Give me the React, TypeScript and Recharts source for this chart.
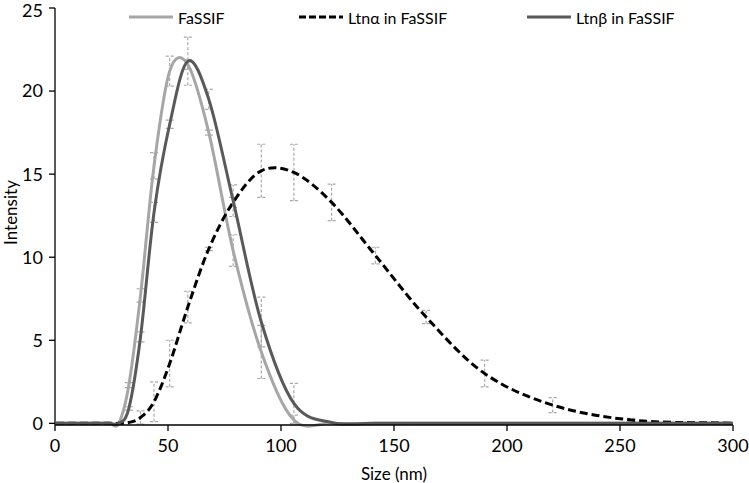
import React from 'react';
import { LineChart, Line, XAxis, YAxis, ErrorBar, Legend, Label } from 'recharts';

// Zetasizer size bins (nm)
const sizes = [
  0.4, 0.4632, 0.5365, 0.6213, 0.7195, 0.8332, 0.9649, 1.117, 1.294, 1.499,
  1.736, 2.01, 2.328, 2.696, 3.122, 3.615, 4.187, 4.849, 5.615, 6.503,
  7.531, 8.721, 10.1, 11.7, 13.54, 15.69, 18.17, 21.04, 24.36, 28.21,
  32.67, 37.84, 43.82, 50.75, 58.77, 68.06, 78.82, 91.28, 105.7, 122.4,
  141.8, 164.2, 190.1, 220.2, 255.0, 295.3, 342.0,
];

const fassif = [
  0, 0, 0, 0, 0, 0, 0, 0, 0, 0,
  0, 0, 0, 0, 0, 0, 0, 0, 0, 0,
  0, 0, 0, 0, 0, 0, 0, 0, 0, 0,
  2.3, 7.7, 15.5, 21.2, 21.6, 17.5, 10.4, 4.3, 0.2, 0,
  0, 0, 0, 0, 0, 0, 0,
];

const ltnA = [
  0, 0, 0, 0, 0, 0, 0, 0, 0, 0,
  0, 0, 0, 0, 0, 0, 0, 0, 0, 0,
  0, 0, 0, 0, 0, 0, 0, 0, 0, 0,
  0.05, 0.35, 1.3, 3.6, 7.0, 10.5, 13.3, 15.2, 15.1, 13.3,
  10.1, 6.4, 3.0, 1.1, 0.2, 0.02, 0,
];

const ltnB = [
  0, 0, 0, 0, 0, 0, 0, 0, 0, 0,
  0, 0, 0, 0, 0, 0, 0, 0, 0, 0,
  0, 0, 0, 0, 0, 0, 0, 0, 0, 0,
  0.9, 5.2, 12.7, 18.0, 21.8, 19.5, 13.4, 6.1, 1.2, 0.05,
  0, 0, 0, 0, 0, 0, 0,
];

const fassifErr = [
  null, null, null, null, null, null, null, null, null, null,
  null, null, null, null, null, null, null, null, null, null,
  null, null, null, null, null, null, null, null, null, null,
  0.15, 0.4, 0.8, 0.9, 0.3, 0.15, 0.95, 1.6, 0.3, null,
  null, null, null, null, null, null, null,
];

const ltnAErr = [
  null, null, null, null, null, null, null, null, null, null,
  null, null, null, null, null, null, null, null, null, null,
  null, null, null, null, null, null, null, null, null, null,
  null, 0.4, 1.2, 1.4, 0.95, 0.1, 0.3, 1.6, 1.7, 1.1,
  0.5, 0.4, 0.8, 0.45, 0.1, null, null,
];

const ltnBErr = [
  null, null, null, null, null, null, null, null, null, null,
  null, null, null, null, null, null, null, null, null, null,
  null, null, null, null, null, null, null, null, null, null,
  0.1, 0.3, 0.6, 0.25, 1.45, 0.6, 0.95, 1.5, 1.2, null,
  null, null, null, null, null, null, null,
];

const xTicks = [0, 50, 100, 150, 200, 250, 300];
const yTicks = [0, 5, 10, 15, 20, 25];

const seriesNames = ['FaSSIF', 'Ltn\u03b1 in FaSSIF', 'Ltn\u03b2 in FaSSIF'];

const data = sizes.map((s, i) => ({
  size: s,
  fassif: fassif[i],
  ltnA: ltnA[i],
  ltnB: ltnB[i],
  fassifErr: fassifErr[i],
  ltnAErr: ltnAErr[i],
  ltnBErr: ltnBErr[i],
}));

const FONT = 'Lato, "Open Sans", sans-serif';
const LIGHT = '#a6a6a6';
const DARK = '#595959';
const ERR = '#a9a9a9';

// Excel-like smoothed line (Catmull-Rom through the points)
function excelSmooth(context: any) {
  let pts: [number, number][] = [];
  return {
    areaStart() {},
    areaEnd() {},
    lineStart() {
      pts = [];
    },
    lineEnd() {
      const n = pts.length;
      if (n === 0) return;
      context.moveTo(pts[0][0], pts[0][1]);
      for (let i = 0; i < n - 1; i++) {
        const p0 = pts[i - 1] || pts[i];
        const p1 = pts[i];
        const p2 = pts[i + 1];
        const p3 = pts[i + 2] || p2;
        context.bezierCurveTo(
          p1[0] + (p2[0] - p0[0]) / 6,
          p1[1] + (p2[1] - p0[1]) / 6,
          p2[0] - (p3[0] - p1[0]) / 6,
          p2[1] - (p3[1] - p1[1]) / 6,
          p2[0],
          p2[1]
        );
      }
    },
    point(x: number, y: number) {
      pts.push([+x, +y]);
    },
  };
}

const legendItems = [
  { name: seriesNames[0], color: LIGHT, dash: undefined as string | undefined, left: 128 },
  { name: seriesNames[1], color: '#000', dash: '7 3', left: 298 },
  { name: seriesNames[2], color: DARK, dash: undefined as string | undefined, left: 526 },
];

const renderLegend = () => (
  <div style={{ position: 'relative', width: 749, height: 20 }}>
    {legendItems.map((it) => (
      <div
        key={it.name}
        style={{
          position: 'absolute',
          left: it.left,
          top: 0,
          display: 'flex',
          alignItems: 'center',
          fontFamily: FONT,
          fontSize: 16,
          color: '#000',
          whiteSpace: 'nowrap',
        }}
      >
        <svg width={46} height={20} style={{ marginRight: 4 }}>
          <line x1={1} y1={10} x2={45} y2={10} stroke={it.color} strokeWidth={3} strokeDasharray={it.dash} />
        </svg>
        <span>{it.name}</span>
      </div>
    ))}
  </div>
);

const YLabel = (props: any) => {
  const vb = props.viewBox || { x: 0, y: 8, width: 55, height: 417 };
  const cx = vb.x + 10;
  const cy = vb.y + vb.height / 2 - 4;
  return (
    <text
      x={cx}
      y={cy}
      transform={`rotate(-90 ${cx} ${cy})`}
      textAnchor="middle"
      dominantBaseline="central"
      fontFamily={FONT}
      fontSize={17}
      fill="#000"
    >
      Intensity
    </text>
  );
};

export default function App() {
  return (
    <div style={{ position: 'absolute', left: 0, top: 0, background: '#fff' }}>
      <LineChart
        width={749}
        height={483}
        data={data}
        margin={{ top: 8, right: 16, bottom: 0, left: 0 }}
      >
        <XAxis
          dataKey="size"
          type="number"
          domain={[0, 300]}
          ticks={xTicks}
          allowDataOverflow
          height={58}
          axisLine={{ stroke: '#000', strokeWidth: 1.3 }}
          tickLine={{ stroke: '#000', strokeWidth: 1.3 }}
          tickSize={6}
          tickMargin={8}
          tick={{ fontSize: 18, fill: '#000', fontFamily: FONT }}
        >
          <Label
            value="Size (nm)"
            position="insideBottom"
            offset={3}
            style={{ fontSize: 17, fill: '#000', fontFamily: FONT }}
          />
        </XAxis>
        <YAxis
          type="number"
          domain={[0, 25]}
          ticks={yTicks}
          width={55}
          axisLine={{ stroke: '#000', strokeWidth: 1.3 }}
          tickLine={{ stroke: '#000', strokeWidth: 1.3 }}
          tickSize={6}
          tickMargin={6}
          tick={{ fontSize: 18, fill: '#000', fontFamily: FONT }}
        >
          <Label content={<YLabel />} />
        </YAxis>
        <Legend
          content={renderLegend}
          layout="horizontal"
          verticalAlign="middle"
          align="center"
          wrapperStyle={{ top: 7, left: 0, width: 749, height: 20 }}
        />
        <Line
          dataKey="fassif"
          name={seriesNames[0]}
          type={excelSmooth as any}
          stroke={LIGHT}
          strokeWidth={3}
          dot={false}
          activeDot={false}
          isAnimationActive={false}
        >
          <ErrorBar dataKey="fassifErr" direction="y" width={4} stroke={ERR} strokeWidth={1.2} strokeDasharray="3 2" />
        </Line>
        <Line
          dataKey="ltnA"
          name={seriesNames[1]}
          type={excelSmooth as any}
          stroke="#000"
          strokeWidth={3}
          strokeDasharray="8 4"
          dot={false}
          activeDot={false}
          isAnimationActive={false}
        >
          <ErrorBar dataKey="ltnAErr" direction="y" width={4} stroke={ERR} strokeWidth={1.2} strokeDasharray="3 2" />
        </Line>
        <Line
          dataKey="ltnB"
          name={seriesNames[2]}
          type={excelSmooth as any}
          stroke={DARK}
          strokeWidth={3}
          dot={false}
          activeDot={false}
          isAnimationActive={false}
        >
          <ErrorBar dataKey="ltnBErr" direction="y" width={4} stroke={ERR} strokeWidth={1.2} strokeDasharray="3 2" />
        </Line>
      </LineChart>
    </div>
  );
}
